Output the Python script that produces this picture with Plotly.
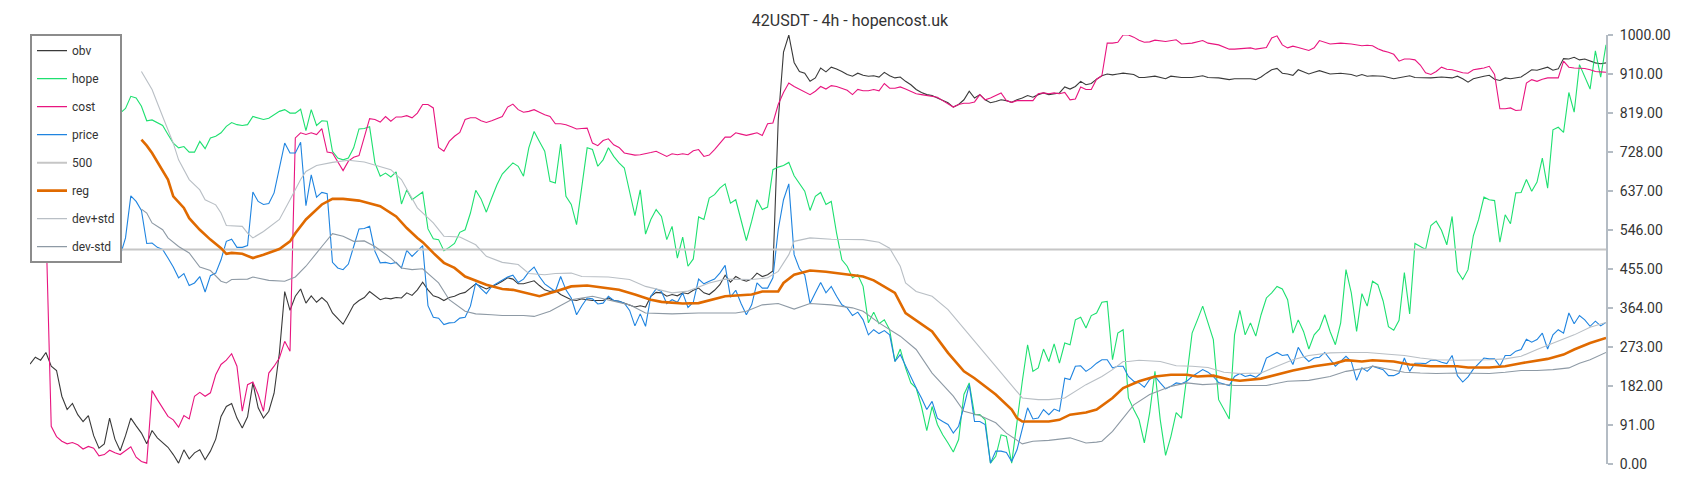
import plotly.graph_objects as go

N_BARS = 298  # candle index 0..297
title_text = "42USDT - 4h - hopencost.uk"
tick_vals = [0, 91, 182, 273, 364, 455, 546, 637, 728, 819, 910, 1000]
tick_text = ["%.2f" % v for v in tick_vals]
level_500 = 500

# ---- obv ----
obv_x = list(range(0, 205)) + [205, 206, 208, 209, 210, 212, 214, 215, 217, 219, 221, 222, 224, 226, 227,
                               230, 231, 232, 233, 234, 235, 236, 237, 238, 239, 240, 241, 242, 243, 245,
                               247, 249, 250, 251, 252, 253, 255, 257, 260, 261, 264, 266, 268, 269, 270,
                               271, 272, 274, 275, 276, 277, 278, 279, 281, 282, 283, 284, 285, 286, 287,
                               288, 289, 290, 291, 292, 293, 294, 295, 296, 297]
obv_y = [233, 249, 242, 260, 228, 218, 158, 127, 141, 115,
         99, 113, 66, 37, 47, 107, 58, 31, 66, 107,
         89, 72, 47, 78, 61, 50, 39, 22, 2, 33,
         12, 26, 33, 10, 30, 58, 111, 134, 141, 107,
         84, 110, 189, 131, 107, 123, 165, 259, 402, 358,
         391, 408, 375, 392, 377, 388, 377, 352, 339, 326,
         348, 371, 381, 388, 402, 392, 383, 387, 385, 388,
         387, 399, 393, 406, 424, 406, 392, 388, 381, 388,
         391, 397, 400, 410, 420, 414, 408, 414, 419, 426,
         434, 431, 420, 420, 423, 427, 416, 406, 402, 405,
         395, 389, 383, 381, 385, 383, 381, 381, 381, 387,
         381, 379, 375, 371, 366, 369, 366, 391, 400, 399,
         391, 395, 392, 399, 397, 405, 410, 399, 395, 405,
         418, 440, 424, 437, 430, 426, 431, 445, 437, 441,
         450, 800, 960, 1000, 936, 915, 911, 892, 900, 923, 914,
         925, 921, 915, 908, 904, 911, 906, 904, 905, 902, 913, 905, 900, 902, 892, 884, 873, 866,
         861, 859, 853, 848, 842, 832, 838, 849, 869, 853, 861, 849, 842, 845, 849, 847, 843, 849,
         853, 859, 855, 861, 865, 861, 863, 865, 879, 874, 880, 892, 884, 887, 897, 905, 909, 907,
         909, 911, 908, 901, 901, 904, 898, 904, 901, 901, 905, 901, 900, 896, 898,
         898, 896, 902, 911, 919, 922, 911, 909, 906, 919, 914, 909, 913, 917, 909,
         911, 908, 904, 908, 904, 905, 904, 898, 905, 901, 900, 902, 900, 904, 898,
         890, 898, 904, 906, 897, 894, 900, 898, 902, 911, 919, 918, 922, 925, 918,
         921, 945, 944, 948, 942, 944, 939, 935, 933, 935]

# ---- hope ----
hope_x = list(range(13, 298))
hope_y = [900, 895,
          884, 857, 818, 829, 857,
          853, 834, 800, 802, 795, 789, 768, 748, 737, 740,
          727, 727, 752, 735, 760, 764, 772, 787, 796, 791,
          789, 791, 810, 806, 803, 806, 814, 822, 826, 818,
          818, 827,
          777, 826, 789, 800, 799, 729, 713, 709,
          713, 737, 781, 782, 786, 702, 671, 678, 669, 681,
          606, 639, 616, 625, 634, 548, 525, 523, 497, 505,
          514, 540, 546, 585, 638, 618, 587, 620, 651, 676,
          688, 702, 694, 671, 737, 775, 752, 729, 659, 655,
          746,
          624, 605, 558, 647, 737, 733, 694, 709, 737, 717, 702, 690, 632, 579, 639, 536, 570,
          593, 577, 523, 554, 480, 529, 461, 478, 576, 570, 620, 628, 643, 653, 608, 616, 566,
          521, 566, 616, 593, 599, 686, 692, 696, 703, 672, 655, 636, 591, 624, 633, 605,
          612, 538, 476, 461, 434, 441, 414, 329, 354, 327, 336, 313, 239, 268, 224, 189, 177, 134,
          78, 134, 92, 68, 49, 28, 57, 162, 189, 115, 115, 103, 2, 18, 68, 64, 2, 103,
          193, 278, 216, 224, 268, 239, 280, 235, 282, 278, 336, 342, 317, 346, 352, 377, 379, 243,
          305, 313, 154, 127, 103, 49, 119, 216, 103, 20, 64, 120, 107, 204, 305, 336,
          368, 329, 290, 150, 127, 105, 301, 358, 301, 329, 298, 348, 387, 399, 414, 408,
          383, 305, 336, 309, 268, 301, 315, 348, 309, 278, 329, 453, 399, 309, 397, 368,
          426, 418, 380, 320, 312, 335, 446, 350, 514, 506, 500, 556, 566, 545, 511,
          577, 449, 430, 453, 532, 570, 622, 616, 614, 517, 581, 560, 632, 633, 663,
          636, 657, 713, 643, 779, 785, 773, 866, 820, 931, 902, 874, 963, 902, 977]

# ---- cost ----
cost_x = list(range(0, 205)) + [205, 206, 207, 208, 209, 210, 211, 212, 214, 216, 217, 219, 221, 222, 224,
                                226, 227, 230, 231, 233, 234, 235, 236, 237, 238, 239, 240, 241, 242, 243,
                                245, 247, 249, 250, 251, 252] + list(range(253, 298))
cost_y = [620, 610, 600, 560, 88, 64, 53, 47, 50, 45,
          35, 41, 37, 19, 22, 32, 26, 22, 31, 40,
          16, 6, 2, 171, 150, 131, 111, 103, 86, 113,
          105, 158, 167, 158, 166, 208, 232, 242, 257, 228,
          123, 185, 191, 162, 123, 212, 228, 247, 286, 263,
          760, 772, 768, 772, 768, 782, 727, 725, 706, 684,
          706, 715, 719, 760, 805, 803, 797, 810, 799, 809,
          809, 812, 807, 818, 838, 838, 830, 738, 729, 752,
          764, 773, 803, 807, 807, 800, 796, 800, 805, 810,
          832, 839, 826, 820, 822, 826, 820, 814, 810, 793,
          793, 791, 786, 781, 782, 783, 748, 742, 754, 758,
          744, 738, 725, 723, 720, 721, 723, 726, 729, 723,
          717, 723, 721, 723, 721, 730, 733, 717, 720, 733,
          748, 762, 762, 772, 769, 766, 769, 772, 766, 793,
          795, 838, 866, 888, 880, 873, 866, 861, 869, 880, 874,
          882, 880, 876, 871, 861, 873, 870, 870, 873, 870, 887, 876, 876, 879, 874, 869, 863, 861,
          859, 857, 855, 847, 840, 832, 838, 841, 841, 844, 861, 849, 853, 859, 865, 847, 843, 847,
          847, 847, 847, 863, 865, 863, 865, 863, 866, 849, 851, 879, 873, 873, 897, 905, 981, 981,
          983, 1000, 1000, 995, 988, 983, 984, 988, 985, 989, 979, 981, 987, 981, 977,
          967, 967, 970, 967, 971, 993, 998, 977, 970, 974, 971, 968, 964, 970, 987,
          979, 981, 979, 977, 975, 976,
          975, 968, 963, 960, 955, 939, 944, 944, 942, 930, 912, 908, 915, 925, 920,
          919, 915, 912, 911, 919, 921, 923, 927, 908, 828, 828, 830, 824, 825, 888,
          896, 892, 897, 900, 900, 900, 939, 925, 923, 923, 922, 919, 915, 914, 913]

# ---- price ----
price_x = list(range(14, 298))
price_y = [800,
           720, 600, 486, 527, 625,
           612, 591, 514, 515, 505, 500, 480, 459, 434, 444,
           416, 422, 437, 401, 439, 445, 476, 519, 524, 505,
           505, 509, 634, 612, 605, 607, 632, 690, 748, 725,
           725, 750,
           602, 674, 622, 633, 630, 470, 457, 453,
           466, 507, 548, 549, 554, 496, 469, 470, 467, 470,
           457, 498, 484, 496, 509, 369, 342, 340, 325, 329,
           330, 340, 342, 368, 422, 409, 397, 414, 422, 430,
           436, 440, 423, 431, 448, 459, 437, 420, 412, 402,
           437, 406, 387, 348, 369, 387, 385, 373, 375, 391, 381, 379, 375, 358, 322, 350, 321,
           391, 408, 402, 374, 383, 377, 399, 365, 377, 431, 420, 426, 431, 445, 463, 389, 405,
           374, 348, 371, 422, 410, 410, 434, 546, 616, 653, 488, 455, 441, 374, 399, 423, 399,
           414, 391, 371, 364, 346, 354, 336, 301, 313, 304, 311, 301, 239, 255, 228, 200, 177, 154,
           127, 146, 107, 99, 92, 72, 88, 134, 185, 99, 99, 92, 2, 30, 30, 27, 6, 33,
           80, 131, 105, 107, 127, 115, 128, 123, 200, 197, 228, 229, 216, 224, 235, 243, 243, 224,
           228, 228, 204, 193, 189, 179, 197, 204, 189, 175, 181, 189, 187, 193, 204, 212,
           220, 214, 204, 190, 186, 183, 204, 211, 204, 207, 202, 212, 247, 253, 260, 253,
           255, 232, 272, 251, 239, 247, 249, 260, 243, 228, 239, 251, 239, 195, 224, 216,
           228, 224, 220, 206, 206, 212, 247, 216, 235, 235, 234, 242, 242, 237, 234,
           253, 206, 191, 203, 221, 235, 247, 245, 245, 228, 253, 253, 263, 267, 291,
           284, 290, 305, 268, 301, 313, 305, 352, 327, 346, 336, 321, 333, 322, 330]

# ---- reg ----
reg_x = [21, 22, 23, 24, 26, 27, 29, 30, 32, 34, 36, 37, 38, 40, 42, 44, 47, 49, 50,
         52, 55, 57, 59, 62, 66, 69, 71, 73, 74, 76, 78, 80, 82, 86, 89, 91, 93, 96, 99, 102,
         105, 109, 111, 114, 117, 119, 123, 126, 128, 131, 136, 138, 141, 142, 144, 147, 150,
         153, 157, 159, 163, 165, 170, 173, 176, 178, 182, 185, 186, 187, 190, 192, 194, 196, 199, 201,
         204, 206, 209, 212, 215, 218, 220, 223, 226, 228, 232, 235, 238, 242, 246, 248, 251,
         253, 257, 260, 264, 269, 271, 275, 278, 281, 286, 289, 291, 294, 297]
reg_y = [756, 742, 725, 705, 663, 624, 597, 573, 546, 523, 503, 490, 492, 490, 480, 488, 501, 519, 538,
         570, 605, 618, 618, 614, 601, 577, 550, 527, 517, 492, 469, 457, 437, 418, 408, 406, 400, 391, 402, 414,
         416, 410, 406, 395, 383, 378, 374, 375, 381, 391, 395, 402, 402, 422, 441, 451, 448,
         444, 437, 428, 399, 352, 309, 259, 216, 200, 162, 127, 107, 99, 99, 99, 103, 115, 120, 127,
         154, 177, 193, 204, 208, 208, 204, 206, 197, 194, 199, 208, 218, 228, 235, 242, 239,
         242, 239, 232, 228, 228, 225, 225, 228, 235, 245, 255, 267, 282, 294]

# ---- dev+std ----
devp_x = [21, 23, 25, 27, 28, 30, 32, 33, 35, 36, 37, 40, 41, 42, 44, 47, 49, 51,
          52, 54, 57, 60, 63, 66, 68, 70, 73, 76, 78, 81, 84, 86, 89, 92, 94, 97, 99, 102,
          104, 109, 113, 116, 121, 124, 128, 131, 136, 139, 141, 143, 144, 147, 150,
          151, 157, 160, 162, 164, 165, 167, 170, 173, 177, 181, 185, 187, 190, 192, 195, 197, 199, 202, 204,
          206, 207, 209, 213, 216, 219, 222, 225, 228, 232, 235, 238, 241, 245, 248, 252,
          256, 259, 262, 265, 269, 272, 275, 278, 281, 284, 287, 291, 294, 297]
devp_y = [915, 873, 810, 748, 709, 663, 639, 616, 604, 585, 556, 554, 538, 527, 542, 570, 616, 663,
          682, 696, 703, 708, 704, 694, 686, 663, 597, 562, 531, 529, 511, 484, 470, 465, 444, 441, 444, 445,
          437, 436, 430, 414, 399, 403, 422, 431, 430, 434, 449, 488, 519, 527, 525,
          524, 523, 517, 503, 461, 422, 402, 391, 360, 301, 243, 185, 154, 150, 150, 154, 169, 185, 204, 220,
          239, 239, 242, 239, 229, 228, 225, 214, 211, 212, 228, 243, 253, 259, 260, 260,
          256, 253, 247, 243, 242, 242, 243, 245, 251, 267, 282, 301, 319, 330]

# ---- dev-std ----
devm_x = [21, 22, 23, 25, 26, 28, 30, 31, 32, 34, 36, 37, 38, 41, 42, 45, 48, 50,
          52, 55, 57, 59, 61, 63, 65, 68, 70, 72, 74, 77, 79, 82, 84, 87, 89, 93, 95, 98, 102,
          106, 109, 113, 116, 121, 126, 133, 135, 138, 141, 144, 147, 150,
          151, 155, 157, 160, 164, 167, 170, 174, 176, 179, 182, 184, 187, 189, 192, 196, 199, 201,
          202, 204, 205, 208, 211, 215, 218, 221, 224, 227, 230, 233, 237, 241, 245, 248, 252,
          253, 256, 259, 262, 265, 269, 272, 275, 278, 281, 284, 287, 290, 292, 294, 297]
devm_y = [594, 585, 562, 546, 527, 507, 492, 476, 459, 451, 426, 422, 430, 431, 436, 428, 426, 436,
          461, 507, 537, 531, 519, 520, 507, 480, 457, 453, 455, 422, 383, 356, 350, 348, 346, 346, 344, 356, 383,
          391, 383, 371, 352, 350, 352, 352, 356, 371, 374, 361, 374, 371,
          371, 364, 356, 329, 298, 267, 212, 158, 123, 113, 96, 72, 47, 53, 55, 61, 49, 51,
          53, 76, 92, 138, 162, 181, 189, 185, 187, 183, 183, 183, 193, 195, 204, 216, 224,
          228, 221, 214, 212, 211, 212, 211, 211, 214, 218, 218, 220, 224, 235, 243, 260]

series = [
    ("obv", obv_x, obv_y, "#3a3a3a", 1.1),
    ("hope", hope_x, hope_y, "#1ee070", 1.1),
    ("cost", cost_x, cost_y, "#e8157f", 1.1),
    ("price", price_x, price_y, "#1f84e0", 1.1),
    ("500", [0, N_BARS - 1], [level_500, level_500], "#c6c6c6", 2),
    ("reg", reg_x, reg_y, "#e06a00", 2.6),
    ("dev+std", devp_x, devp_y, "#b9bfc5", 1.1),
    ("dev-std", devm_x, devm_y, "#8e9aa5", 1.1),
]

fig = go.Figure()
for name, xs, ys, color, width in series:
    assert len(xs) == len(ys), (name, len(xs), len(ys))
    fig.add_trace(go.Scatter(x=xs, y=ys, name=name, mode="lines", legendgroup=name,
                             line=dict(color=color, width=width), hoverinfo="skip"))

# the page body has an 8px default margin, so the figure is sized to fit inside the window
fig.update_layout(
    width=1692, height=492,
    margin=dict(l=22, r=94, t=27, b=36),
    paper_bgcolor="white", plot_bgcolor="white",
    font=dict(family="Roboto", color="#333333"),
    title=dict(text=title_text, x=0.4976, xref="container", xanchor="center",
               y=0.974, yref="container", yanchor="middle",
               font=dict(family="Roboto", size=16, color="#333333")),
    legend=dict(x=0, xanchor="left", y=1.002, yanchor="top", bgcolor="white",
                bordercolor="#8c8c8c", borderwidth=2, itemwidth=30, tracegroupgap=9,
                traceorder="grouped", font=dict(family="Roboto", size=12, color="#333333")),
    xaxis=dict(visible=False, range=[0, N_BARS - 1]),
    yaxis=dict(side="right", range=[0, 1000], tickmode="array", tickvals=tick_vals, ticktext=tick_text,
               showgrid=False, zeroline=False, showline=True, linecolor="#b4bcc4", linewidth=2,
               ticks="outside", ticklen=5, tickcolor="#b4bcc4", tickwidth=1.5,
               tickfont=dict(family="Roboto", size=14, color="#333333"), ticklabelstandoff=4),
    hovermode=False,
)

fig.write_html("out.html")
